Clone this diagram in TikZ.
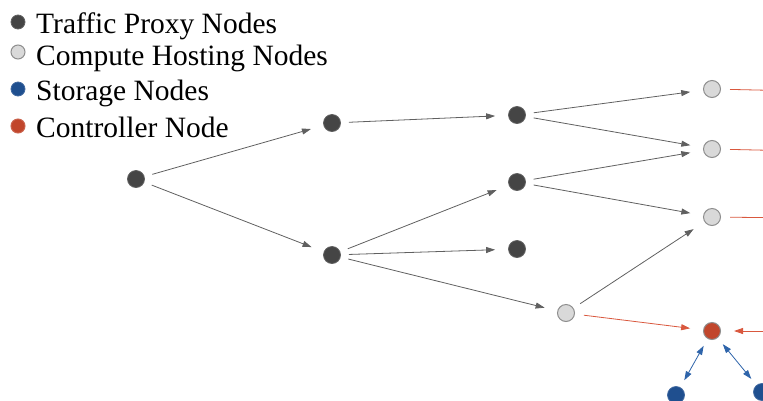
\documentclass[tikz,border=0pt]{standalone}
\usepackage{fontspec}
\setmainfont{Liberation Serif}
\usetikzlibrary{arrows.meta}
\definecolor{proxygray}{HTML}{454545}
\definecolor{hostgray}{HTML}{D9D9D9}
\definecolor{hostedge}{HTML}{8E8E8E}
\definecolor{storeblue}{HTML}{1F4F8F}
\definecolor{ctrlred}{HTML}{C1462C}
\definecolor{linkgray}{HTML}{606060}
\definecolor{linkred}{HTML}{D9583E}
\definecolor{linkblue}{HTML}{2E64AA}

\begin{document}
\begin{tikzpicture}[x=1pt,y=-1pt,
  proxy/.style={circle,fill=proxygray,draw=proxygray!85,line width=0.8pt,minimum size=17pt,inner sep=0pt},
  host/.style={circle,fill=hostgray,draw=hostedge,line width=1pt,minimum size=17pt,inner sep=0pt},
  store/.style={circle,fill=storeblue,draw=storeblue!85,line width=0.8pt,minimum size=17pt,inner sep=0pt},
  ctrl/.style={circle,fill=ctrlred,draw=hostedge,line width=1pt,minimum size=17pt,inner sep=0pt},
  legdot/.style={minimum size=14pt},
  legtext/.style={anchor=base west,inner sep=0pt,font=\fontsize{29.5}{32}\selectfont},
  link/.style={draw=linkgray,line width=0.8pt,-{Triangle[length=9pt,width=6pt]},shorten <=8pt,shorten >=13pt},
  redlink/.style={draw=linkred,line width=0.8pt,-{Triangle[length=9pt,width=6pt]},shorten <=9pt,shorten >=13pt},
  bluelink/.style={draw=linkblue,line width=0.8pt,{Triangle[length=9pt,width=6pt]}-{Triangle[length=9pt,width=6pt]},shorten <=8pt,shorten >=8pt}]
\clip (0,0) rectangle (763,400);

% legend
\node[proxy,legdot] (lproxy) at (18,22) {};
\node[host,legdot] (lhost) at (18,52) {};
\node[store,legdot] (lstore) at (18,89) {};
\node[ctrl,legdot,draw=ctrlred!85] (lctrl) at (18,126) {};
\node[legtext] (tproxy) at (36,33) {Traffic Proxy Nodes};
\node[legtext] (thost) at (36,65) {Compute Hosting Nodes};
\node[legtext] (tstore) at (36,100) {Storage Nodes};
\node[legtext] (tctrl) at (36,137) {Controller Node};

% nodes
\node[proxy] (A) at (136,179) {};
\node[proxy] (B) at (332,123) {};
\node[proxy] (C) at (332,255) {};
\node[proxy] (D) at (517,115) {};
\node[proxy] (E) at (517,182) {};
\node[proxy] (F) at (517,249) {};
\node[host] (G) at (566,313) {};
\node[host] (H) at (712,89) {};
\node[host] (I) at (712,149) {};
\node[host] (J) at (712,217) {};
\node[ctrl] (K) at (712,331) {};
\node[store] (L) at (676,395) {};
\node[store] (M) at (762,392) {};
\coordinate (Hout) at (800,91);
\coordinate (Iout) at (800,151);
\coordinate (Jout) at (800,218);
\coordinate (Kin) at (800,331);

% links
\draw[link] (A) -- (B);
\draw[link] (A) -- (C);
\draw[link] (B) -- (D);
\draw[link] (D) -- (H);
\draw[link] (D) -- (I);
\draw[link] (E) -- (I);
\draw[link] (E) -- (J);
\draw[link] (C) -- (E);
\draw[link] (C) -- (F);
\draw[link] (C) -- (G);
\draw[link] (G) -- (J);
\draw[redlink] (G) -- (K);
\draw[redlink,-] (H) -- (Hout);
\draw[redlink,-] (I) -- (Iout);
\draw[redlink,-] (J) -- (Jout);
\draw[redlink,shorten <=0pt] (Kin) -- (K);
\draw[bluelink] (K) -- (L);
\draw[bluelink] (K) -- (M);

\end{tikzpicture}
\end{document}
